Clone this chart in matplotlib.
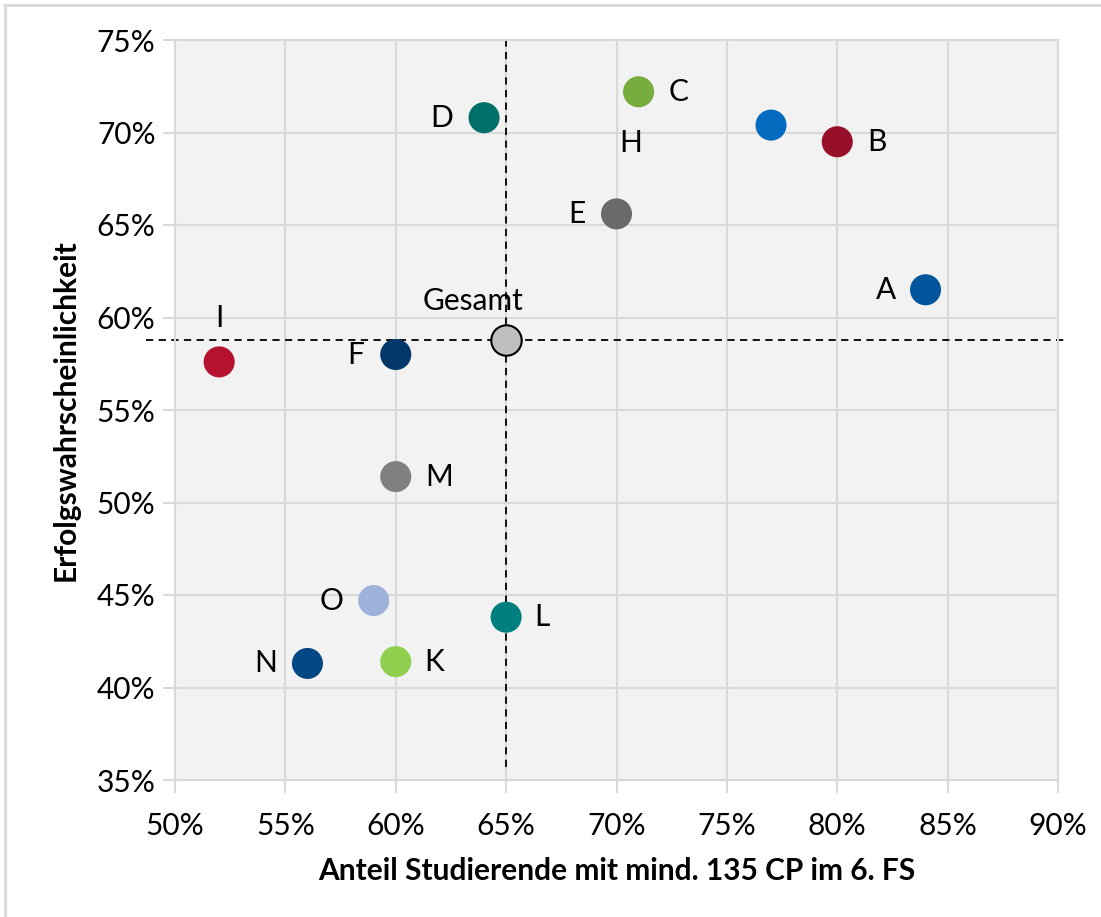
import matplotlib.pyplot as plt
from matplotlib.lines import Line2D
from matplotlib.ticker import FuncFormatter

# Werte (in %)
names = ["A", "B", "C", "D", "E", "H", "I", "F", "M", "O", "L", "N", "K"]
anteil_cp = [84, 80, 71, 64, 70, 77, 52, 60, 60, 59, 65, 56, 60]
erfolg = [61.5, 69.5, 72.2, 70.8, 65.6, 70.4, 57.6, 58.0, 51.4, 44.7, 43.8, 41.3, 41.4]
colors = ["#02569B", "#970F28", "#77AC3F", "#006F69", "#6A6A6A", "#046BBF",
          "#B4122E", "#023869", "#808080", "#9EB1D8", "#007F7E", "#034884", "#8FCF4E"]

gesamt_x = 65
gesamt_y = 58.8

# Label-Versatz in Pixeln
offsets = {"A": (-40, 0), "B": (40, 0), "C": (40, 0), "D": (-42, 0), "E": (-40, 0),
           "H": (-140, -18), "I": (0, 44), "F": (-40, 0), "M": (43, 0), "O": (-42, 0),
           "L": (36, 0), "N": (-42, 0), "K": (38, 0)}

plt.rcParams["font.family"] = ["Lato", "DejaVu Sans"]
fs = 21.5

fig = plt.figure(figsize=(11.01, 9.17), dpi=100)
ax = fig.add_axes([175 / 1101, 1 - 780 / 917, (1058 - 175) / 1101, (780 - 40) / 917])
ax.set_facecolor("#F2F2F2")

ax.set_xlim(50, 90)
ax.set_ylim(35, 75)
ax.set_xticks(range(50, 91, 5))
ax.set_yticks(range(35, 76, 5))
pct = FuncFormatter(lambda v, p: f"{int(v)}%")
ax.xaxis.set_major_formatter(pct)
ax.yaxis.set_major_formatter(pct)
ax.tick_params(labelsize=fs, color="#D9D9D9", width=1.5, length=9)
ax.tick_params(axis="x", pad=14)
ax.tick_params(axis="y", pad=5)
ax.grid(color="#D9D9D9", linewidth=1.5)
ax.set_axisbelow(True)
for s in ax.spines.values():
    s.set_color("#D9D9D9")
    s.set_linewidth(1.5)

# Hilfslinien durch Gesamt
ax.plot([gesamt_x, gesamt_x], [35.7, 75], color="black", linestyle="--",
        linewidth=1.3, dashes=(4, 3), clip_on=False, zorder=2)
ax.plot([48.7, 90.4], [gesamt_y, gesamt_y], color="black", linestyle="--",
        linewidth=1.3, dashes=(4, 3), clip_on=False, zorder=2)

ax.scatter(anteil_cp, erfolg, s=500, c=colors, zorder=3, linewidths=0)
ax.scatter([gesamt_x], [gesamt_y], s=480, c="#BFBFBF", edgecolors="black",
           linewidths=1.5, zorder=3)

for n, x, y in zip(names, anteil_cp, erfolg):
    dx, dy = offsets[n]
    ax.annotate(n, (x, y), xytext=(dx, dy), textcoords="offset pixels",
                ha="center", va="center", fontsize=fs, zorder=4)
ax.annotate("Gesamt", (gesamt_x, gesamt_y), xytext=(-33, 39), textcoords="offset pixels",
            ha="center", va="center", fontsize=fs, zorder=4)

ax.set_xlabel("Anteil Studierende mit mind. 135 CP im 6. FS", fontsize=fs,
              fontweight="bold", labelpad=12)
ax.set_ylabel("Erfolgswahrscheinlichkeit", fontsize=fs, fontweight="bold", labelpad=12)

# Rahmen um die Grafik
fig.add_artist(Line2D([5 / 1101, 1], [1 - 5 / 917, 1 - 5 / 917], color="#D9D9D9", linewidth=2))
fig.add_artist(Line2D([5 / 1101, 5 / 1101], [0, 1 - 5 / 917], color="#D9D9D9", linewidth=2))

plt.savefig("out.png", dpi=100)
